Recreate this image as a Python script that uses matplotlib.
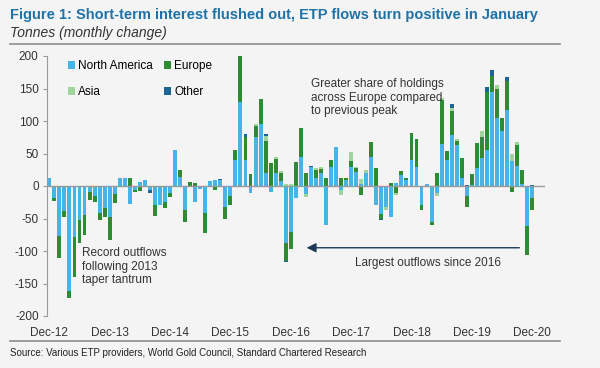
import numpy as np
import matplotlib
matplotlib.use("Agg")
import matplotlib.pyplot as plt
from matplotlib.patches import Patch

plt.rcParams['font.family'] = ['Liberation Sans', 'DejaVu Sans']
plt.rcParams['axes.unicode_minus'] = False

# Monthly ETP flows (tonnes), Dec-12 .. Dec-20
north_america = [
    13, -18, -77, -38, -162, -78, -52, -45, -9, -15, -42, -34,
    -47, -12, 12, 12, -27, -6, 6, 10, -6, -29, -29, -24,
    -11, 56, 14, -37, 0, -25, -5, -42, 8, 10, 9, -32,
    -16, 40, 130, 40, -11, 76, 96, 20, -9, 20, 7, -88,
    -70, -19, 45, -12, 29, 12, 20, -60, 30, 60, -6, 9,
    30, 22, 3, 20, 45, -29, -43, -32, -48, 4, 17, 9,
    40, 30, -29, 3, -55, -11, 64, 40, 79, 63, 12, -16,
    2, 28, 43, 56, 145, 104, 84, 117, 38, 31, 3, -61,
    -19,
]
europe = [
    0, -5, -34, -10, -10, -62, -35, -30, -13, -9, -10, -13,
    -36, -14, 0, 0, 12, -3, -8, 0, 0, -17, 0, -10,
    -6, 0, 10, -18, 6, 4, 0, -31, 0, -6, 0, -18,
    -13, 16, 70, 36, 19, 16, 38, 50, 35, 22, 13, -27,
    -27, 37, 44, 20, 0, 12, 6, 13, 10, 0, 13, 4,
    8, 6, -14, 0, 23, 27, -7, 0, 5, -10, 6, 4,
    41, 43, -8, 0, -5, 20, 68, 14, 36, 6, 31, -16,
    16, 38, 33, 89, 25, 46, 20, 45, -9, 32, 22, -45,
    -18,
]
asia = [
    0, 0, 0, 0, 0, 0, 0, 0, 0, 0, 0, 0,
    0, 0, 0, 0, 0, 0, 0, 0, 0, 0, 0, 0,
    0, 0, 0, 0, 0, 0, 0, 0, 0, 0, 0, 0,
    0, 0, 0, 0, 0, 4, 0, 7, 0, 3, 3, 3,
    3, 0, 0, -5, 0, 4, 4, 0, 0, 0, -8, 0,
    15, 2, 8, 4, 0, 0, 0, -5, 0, -4, 0, 0,
    0, 0, 0, 0, 0, -5, 3, 0, 5, 4, 0, 0,
    0, 0, 8, 0, 0, 5, 0, 0, 12, 5, 0, 0,
    0,
]
other = [
    0, 0, 0, 0, 0, 0, 0, 0, 0, 0, 0, 0,
    0, 0, 0, 0, 0, 0, 0, 0, -4, 0, 0, 0,
    0, 0, 0, 0, 0, 0, 0, 0, 0, 0, 2, 0,
    0, 0, 0, 4, 0, 0, 0, 3, 0, 0, 0, -2,
    0, 0, 0, 0, 2, 0, 0, 0, 0, 0, 0, 0,
    0, 0, 0, 0, 0, 0, -3, 0, 0, 0, 0, 0,
    0, 0, 0, 0, 0, 0, 0, 0, 6, 0, 0, 2,
    0, 0, 0, 7, 8, 0, 0, 5, 0, 0, 0, 0,
    2,
]
tick_labels = ['Dec-12', 'Dec-13', 'Dec-14', 'Dec-15', 'Dec-16',
               'Dec-17', 'Dec-18', 'Dec-19', 'Dec-20']

series = [
    ('North America', north_america, '#45b4e6'),
    ('Europe', europe, '#2f8a34'),
    ('Asia', asia, '#9fd59c'),
    ('Other', other, '#1d6496'),
]

bg = '#f4f4f4'
fig = plt.figure(figsize=(6, 3.68), dpi=100, facecolor=bg)
ax = fig.add_axes([47 / 600, 1 - 316 / 368, 498 / 600, 260 / 368], facecolor=bg)

x = np.arange(len(north_america))
pos_base = np.zeros(len(x))
neg_base = np.zeros(len(x))
for name, vals, col in series:
    v = np.array(vals, dtype=float)
    p = np.where(v > 0, v, 0)
    n = np.where(v < 0, v, 0)
    ax.bar(x, p, bottom=pos_base, width=0.78, color=col, linewidth=0)
    ax.bar(x, n, bottom=neg_base, width=0.78, color=col, linewidth=0)
    pos_base += p
    neg_base += n

ax.axhline(0, color='#9a9a9a', lw=1.0, zorder=3)
ax.set_ylim(-200, 200)
ax.set_xlim(-0.46, -0.46 + 498 / 5.03)
ax.set_yticks(range(-200, 201, 50))
ax.set_xticks(range(0, len(x), 12))
ax.set_xticklabels(tick_labels)
ax.tick_params(axis='x', length=0, pad=8, labelsize=8.5, colors='#333333')
ax.tick_params(axis='y', length=3, width=0.8, color='#9a9a9a', labelsize=8.5,
               colors='#333333', pad=3)
for s in ['top', 'right', 'bottom']:
    ax.spines[s].set_visible(False)
ax.spines['left'].set_color('#9a9a9a')
ax.spines['left'].set_linewidth(0.8)

# legend filled row by row: NA, Europe / Asia, Other
h = {n: Patch(facecolor=c, label=n) for n, _, c in series}
handles = [h['North America'], h['Asia'], h['Europe'], h['Other']]
leg = ax.legend(handles=handles, ncol=2, loc='upper left', bbox_to_anchor=(0.02, 1.025),
                frameon=False, fontsize=8.5, handlelength=0.6, handleheight=0.6,
                handletextpad=0.3, columnspacing=0.9, labelspacing=1.2)

ax.text(6.5, -124, 'Record outflows\nfollowing 2013\ntaper tantrum', fontsize=8.5,
        color='#333333', va='center', ha='left', linespacing=1.15)
ax.text(52.0, 136, 'Greater share of holdings\nacross Europe compared\nto previous peak',
        fontsize=8.5, color='#333333', va='center', ha='left', linespacing=1.15)
ax.text(60.8, -118, 'Largest outflows since 2016', fontsize=8.5, color='#333333',
        va='center', ha='left')
ax.annotate('', xy=(50.6, -95), xytext=(94, -95),
            arrowprops=dict(arrowstyle='-|>', color='#1e3a56', lw=1.0,
                            mutation_scale=14))

fig.text(10 / 600, 1 - 15 / 368, 'Figure 1: Short-term interest flushed out, ETP flows turn positive in January',
         fontsize=10.5, fontweight='bold', color='#1f72a8', va='center', ha='left')
fig.text(10 / 600, 1 - 33 / 368, 'Tonnes (monthly change)', fontsize=10, style='italic',
         color='#333333', va='center', ha='left')
fig.add_artist(plt.Line2D([10 / 600, 560 / 600], [1 - 44 / 368, 1 - 44 / 368],
                          color='#8c8c8c', lw=1.2))
fig.add_artist(plt.Line2D([10 / 600, 560 / 600], [1 - 341 / 368, 1 - 341 / 368],
                          color='#8c8c8c', lw=1.2))
fig.text(10 / 600, 1 - 353 / 368,
         'Source: Various ETP providers, World Gold Council, Standard Chartered Research',
         fontsize=7, color='#222222', va='center', ha='left')

fig.savefig('out.png', dpi=100, facecolor=bg)
